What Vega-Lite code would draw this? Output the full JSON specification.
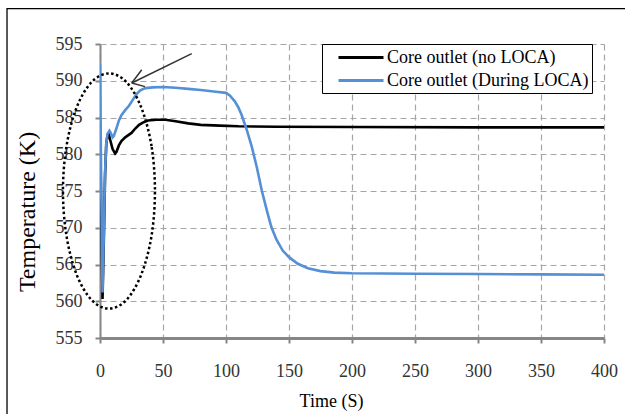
{
  "$schema": "https://vega.github.io/schema/vega-lite/v6.json",
  "width": 504,
  "height": 294,
  "autosize": {"type": "none"},
  "padding": {"left": 100, "top": 44, "right": 21, "bottom": 76},
  "background": "#ffffff",
  "config": {
    "view": {"stroke": null},
    "axis": {
      "labelFont": "Liberation Sans Narrow",
      "labelFontSize": 18,
      "labelColor": "#333333",
      "labelOverlap": false,
      "titleFont": "Liberation Serif",
      "titleColor": "#000000",
      "titleFontWeight": "normal",
      "grid": true,
      "gridDash": [6, 4],
      "gridColor": "#a6a6a6",
      "gridWidth": 1.2,
      "domainColor": "#868686",
      "tickColor": "#868686",
      "tickWidth": 2,
      "tickSize": 5
    }
  },
  "encoding": {
    "x": {
      "field": "t", "type": "quantitative",
      "scale": {"domain": [0, 400], "nice": false},
      "axis": {
        "values": [0, 50, 100, 150, 200, 250, 300, 350, 400],
        "title": "Time (S)",
        "titleFontSize": 18,
        "titleX": 231,
        "titleY": 68,
        "titleBaseline": "alphabetic",
        "labelPadding": 19,
        "domainWidth": 3,
        "labelFlush": false,
        "labelOverlap": false
      }
    },
    "y": {
      "field": "T", "type": "quantitative",
      "scale": {"domain": [555, 595], "nice": false, "zero": false},
      "axis": {
        "values": [555, 560, 565, 570, 575, 580, 585, 590, 595],
        "title": "Temperature (K)",
        "titleFontSize": 24,
        "titleX": -66,
        "titleY": 167.5,
        "titleBaseline": "alphabetic",
        "labelPadding": 13,
        "domainWidth": 2,
        "labelFlush": false,
        "labelOverlap": false
      }
    }
  },
  "layer": [
    {
      "data": {"values": [
        {"series": "Core outlet (no LOCA)", "t": 0, "T": 583.8},
        {"series": "Core outlet (no LOCA)", "t": 1, "T": 572},
        {"series": "Core outlet (no LOCA)", "t": 2, "T": 560.3},
        {"series": "Core outlet (no LOCA)", "t": 3, "T": 568},
        {"series": "Core outlet (no LOCA)", "t": 4, "T": 577},
        {"series": "Core outlet (no LOCA)", "t": 5, "T": 581.5},
        {"series": "Core outlet (no LOCA)", "t": 6, "T": 582.6},
        {"series": "Core outlet (no LOCA)", "t": 7, "T": 582.7},
        {"series": "Core outlet (no LOCA)", "t": 8, "T": 582.0},
        {"series": "Core outlet (no LOCA)", "t": 10, "T": 580.7},
        {"series": "Core outlet (no LOCA)", "t": 12, "T": 580.1},
        {"series": "Core outlet (no LOCA)", "t": 13, "T": 580.3},
        {"series": "Core outlet (no LOCA)", "t": 15, "T": 581.2},
        {"series": "Core outlet (no LOCA)", "t": 17, "T": 581.8},
        {"series": "Core outlet (no LOCA)", "t": 20, "T": 582.3},
        {"series": "Core outlet (no LOCA)", "t": 22.5, "T": 582.6},
        {"series": "Core outlet (no LOCA)", "t": 25, "T": 582.9},
        {"series": "Core outlet (no LOCA)", "t": 28, "T": 583.5},
        {"series": "Core outlet (no LOCA)", "t": 31, "T": 584.0},
        {"series": "Core outlet (no LOCA)", "t": 34, "T": 584.3},
        {"series": "Core outlet (no LOCA)", "t": 38, "T": 584.6},
        {"series": "Core outlet (no LOCA)", "t": 45, "T": 584.7},
        {"series": "Core outlet (no LOCA)", "t": 52, "T": 584.7},
        {"series": "Core outlet (no LOCA)", "t": 60, "T": 584.5},
        {"series": "Core outlet (no LOCA)", "t": 70, "T": 584.2},
        {"series": "Core outlet (no LOCA)", "t": 80, "T": 584.0},
        {"series": "Core outlet (no LOCA)", "t": 95, "T": 583.9},
        {"series": "Core outlet (no LOCA)", "t": 110, "T": 583.8},
        {"series": "Core outlet (no LOCA)", "t": 140, "T": 583.75},
        {"series": "Core outlet (no LOCA)", "t": 200, "T": 583.7},
        {"series": "Core outlet (no LOCA)", "t": 300, "T": 583.65},
        {"series": "Core outlet (no LOCA)", "t": 400, "T": 583.65},
        {"series": "Core outlet (During LOCA)", "t": 0, "T": 592.2},
        {"series": "Core outlet (During LOCA)", "t": 0.5, "T": 584},
        {"series": "Core outlet (During LOCA)", "t": 1, "T": 575},
        {"series": "Core outlet (During LOCA)", "t": 2, "T": 561.2},
        {"series": "Core outlet (During LOCA)", "t": 3, "T": 569},
        {"series": "Core outlet (During LOCA)", "t": 4, "T": 577.5},
        {"series": "Core outlet (During LOCA)", "t": 5, "T": 581.5},
        {"series": "Core outlet (During LOCA)", "t": 6, "T": 582.8},
        {"series": "Core outlet (During LOCA)", "t": 7.5, "T": 583.2},
        {"series": "Core outlet (During LOCA)", "t": 8.5, "T": 582.9},
        {"series": "Core outlet (During LOCA)", "t": 10, "T": 582.3},
        {"series": "Core outlet (During LOCA)", "t": 11, "T": 582.5},
        {"series": "Core outlet (During LOCA)", "t": 13, "T": 583.5},
        {"series": "Core outlet (During LOCA)", "t": 15, "T": 584.6},
        {"series": "Core outlet (During LOCA)", "t": 17, "T": 585.3},
        {"series": "Core outlet (During LOCA)", "t": 20, "T": 586.0},
        {"series": "Core outlet (During LOCA)", "t": 23, "T": 586.6},
        {"series": "Core outlet (During LOCA)", "t": 26, "T": 587.4},
        {"series": "Core outlet (During LOCA)", "t": 29, "T": 588.2},
        {"series": "Core outlet (During LOCA)", "t": 32, "T": 588.7},
        {"series": "Core outlet (During LOCA)", "t": 36, "T": 589.0},
        {"series": "Core outlet (During LOCA)", "t": 42, "T": 589.1},
        {"series": "Core outlet (During LOCA)", "t": 50, "T": 589.15},
        {"series": "Core outlet (During LOCA)", "t": 60, "T": 589.05},
        {"series": "Core outlet (During LOCA)", "t": 70, "T": 588.9},
        {"series": "Core outlet (During LOCA)", "t": 80, "T": 588.75},
        {"series": "Core outlet (During LOCA)", "t": 92, "T": 588.5},
        {"series": "Core outlet (During LOCA)", "t": 100, "T": 588.35},
        {"series": "Core outlet (During LOCA)", "t": 103, "T": 588.0},
        {"series": "Core outlet (During LOCA)", "t": 107, "T": 587.2},
        {"series": "Core outlet (During LOCA)", "t": 110, "T": 586.3},
        {"series": "Core outlet (During LOCA)", "t": 112.5, "T": 585.3},
        {"series": "Core outlet (During LOCA)", "t": 116.5, "T": 583.3},
        {"series": "Core outlet (During LOCA)", "t": 120.5, "T": 581.0},
        {"series": "Core outlet (During LOCA)", "t": 124.5, "T": 578.2},
        {"series": "Core outlet (During LOCA)", "t": 128.5, "T": 575.0},
        {"series": "Core outlet (During LOCA)", "t": 132.5, "T": 572.3},
        {"series": "Core outlet (During LOCA)", "t": 136, "T": 570.1},
        {"series": "Core outlet (During LOCA)", "t": 140, "T": 568.4},
        {"series": "Core outlet (During LOCA)", "t": 145, "T": 566.9},
        {"series": "Core outlet (During LOCA)", "t": 150, "T": 566.0},
        {"series": "Core outlet (During LOCA)", "t": 157, "T": 565.1},
        {"series": "Core outlet (During LOCA)", "t": 165, "T": 564.5},
        {"series": "Core outlet (During LOCA)", "t": 175, "T": 564.1},
        {"series": "Core outlet (During LOCA)", "t": 186, "T": 563.9},
        {"series": "Core outlet (During LOCA)", "t": 200, "T": 563.8},
        {"series": "Core outlet (During LOCA)", "t": 250, "T": 563.75},
        {"series": "Core outlet (During LOCA)", "t": 300, "T": 563.7},
        {"series": "Core outlet (During LOCA)", "t": 350, "T": 563.65},
        {"series": "Core outlet (During LOCA)", "t": 400, "T": 563.6}
      ]},
      "mark": {"type": "line", "strokeWidth": 2.6, "clip": true},
      "encoding": {
        "color": {
          "field": "series", "type": "nominal",
          "scale": {"domain": ["Core outlet (no LOCA)", "Core outlet (During LOCA)"], "range": ["#000000", "#5590d6"]},
          "legend": {
            "orient": "none",
            "legendX": 222,
            "legendY": 0,
            "title": null,
            "symbolType": "M-1,0H4",
            "symbolSize": 324,
            "symbolStrokeWidth": 2.8,
            "labelFont": "Liberation Serif",
            "labelFontSize": 18,
            "labelColor": "#000000",
            "labelLimit": 400,
            "padding": 3,
            "symbolOffset": 12,
            "labelOffset": 29,
            "rowPadding": 3,
            "strokeColor": "#000000",
            "fillColor": "#ffffff"
          }
        }
      }
    },
    {
      "data": {"values": [{"t": -73.8, "t2": 430, "T": 599.8, "T2": 540}]},
      "mark": {"type": "rect", "fill": "transparent", "stroke": "#000000", "strokeWidth": 1.3, "clip": false},
      "encoding": {
        "x2": {"field": "t2"},
        "y2": {"field": "T2"}
      }
    },
    {
      "data": {"values": [
        {"i": 0, "t": 43.6, "T": 575.0},
        {"i": 1, "t": 40.9, "T": 581.1},
        {"i": 2, "t": 32.9, "T": 586.3},
        {"i": 3, "t": 21.1, "T": 589.8},
        {"i": 4, "t": 7.1, "T": 591.0},
        {"i": 5, "t": -6.8, "T": 589.8},
        {"i": 6, "t": -18.7, "T": 586.3},
        {"i": 7, "t": -26.6, "T": 581.1},
        {"i": 8, "t": -29.4, "T": 575.0},
        {"i": 9, "t": -26.6, "T": 568.9},
        {"i": 10, "t": -18.7, "T": 563.7},
        {"i": 11, "t": -6.8, "T": 560.2},
        {"i": 12, "t": 7.1, "T": 559.0},
        {"i": 13, "t": 21.1, "T": 560.2},
        {"i": 14, "t": 32.9, "T": 563.7},
        {"i": 15, "t": 40.9, "T": 568.9}
      ]},
      "mark": {"type": "line", "interpolate": "cardinal-closed", "stroke": "#000000", "strokeWidth": 2.5, "strokeDash": [2.5, 2.5], "clip": false},
      "encoding": {
        "order": {"field": "i", "type": "quantitative"}
      }
    },
    {
      "data": {"values": [
        {"seg": "shaft", "i": 0, "t": 72.8, "T": 593.7},
        {"seg": "shaft", "i": 1, "t": 25.2, "T": 589.7},
        {"seg": "head1", "i": 0, "t": 25.2, "T": 589.7},
        {"seg": "head1", "i": 1, "t": 33.1, "T": 591.5},
        {"seg": "head2", "i": 0, "t": 25.2, "T": 589.7},
        {"seg": "head2", "i": 1, "t": 35.7, "T": 589.2}
      ]},
      "mark": {"type": "line", "stroke": "#333333", "strokeWidth": 1.5, "clip": false},
      "encoding": {
        "detail": {"field": "seg", "type": "nominal"},
        "order": {"field": "i", "type": "quantitative"}
      }
    }
  ]
}
